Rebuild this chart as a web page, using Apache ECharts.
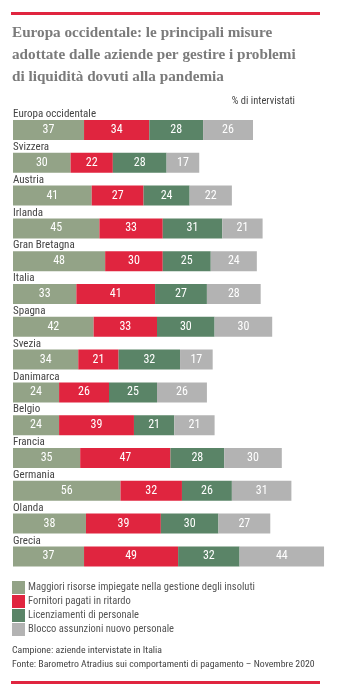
<!DOCTYPE html>
<html><head><meta charset="utf-8">
<script src="https://cdn.jsdelivr.net/npm/echarts@6/dist/echarts.min.js"></script>
<style>html,body{margin:0;padding:0;background:#fff}#c{width:348px;height:698px}</style>
</head><body><div id="c"></div>
<script>
const categories = ["Europa occidentale","Svizzera","Austria","Irlanda","Gran Bretagna","Italia","Spagna","Svezia","Danimarca","Belgio","Francia","Germania","Olanda","Grecia"];
const seriesNames = ["Maggiori risorse impiegate nella gestione degli insoluti","Fornitori pagati in ritardo","Licenziamenti di personale","Blocco assunzioni nuovo personale"];
const risorse = [37,30,41,45,48,33,42,34,24,24,35,56,38,37];
const fornitori = [34,22,27,33,30,41,33,21,26,39,47,32,39,49];
const licenziamenti = [28,28,24,31,25,27,30,32,25,21,28,26,30,32];
const blocco = [26,17,22,21,24,28,30,17,26,21,30,31,27,44];
const colors = ["#93a387","#e0253f","#5a8467","#b3b3b3"];

const cond = "'Roboto Condensed', Roboto, sans-serif";
const chart = echarts.init(document.getElementById('c'));
const mk = (name, data, i) => ({
  name, type: 'bar', stack: 's', data, barWidth: 20,
  itemStyle: {color: colors[i]},
  label: {show: true, position: 'inside', color: '#fff', fontSize: 12, fontFamily: cond},
  emphasis: {disabled: true}
});
chart.setOption({
  animation: false,
  title: {
    text: "Europa occidentale: le principali misure\nadottate dalle aziende per gestire i problemi\ndi liquidità dovuti alla pandemia",
    left: 12, top: 22, padding: 0,
    textStyle: {fontFamily: "'Liberation Serif', serif", fontWeight: 'bold', fontSize: 15.2, color: '#7b7b7b', lineHeight: 22}
  },
  legend: {
    orient: 'vertical', left: 12, top: 581, padding: 0, itemWidth: 13, itemHeight: 13, itemGap: 1,
    icon: 'rect', selectedMode: false,
    textStyle: {fontFamily: cond, fontSize: 10.5, color: '#555', padding: [0, 0, 0, -2]},
    data: seriesNames
  },
  grid: {left: 13, top: 113.6, width: 326.4, height: 459.2},
  xAxis: {type: 'value', min: 0, max: 170, show: false},
  yAxis: {
    type: 'category', data: categories, inverse: true,
    axisLine: {show: false}, axisTick: {show: false},
    axisLabel: {inside: true, margin: 0, verticalAlign: 'bottom', padding: [0,0,10,0],
      fontFamily: cond, fontSize: 11, color: '#444'}
  },
  series: [mk(seriesNames[0], risorse, 0), mk(seriesNames[1], fornitori, 1), mk(seriesNames[2], licenziamenti, 2), mk(seriesNames[3], blocco, 3)],
  graphic: [
    {type: 'rect', shape: {x: 11, y: 12, width: 309, height: 3}, style: {fill: '#e0253f'}},
    {type: 'rect', shape: {x: 11, y: 681, width: 309, height: 3}, style: {fill: '#e0253f'}},
    {type: 'text', right: 53, top: 96, style: {text: '% di intervistati', fontFamily: cond, fontSize: 10.5, fill: '#444'}},
    {type: 'text', left: 12, top: 644, style: {text: 'Campione: aziende intervistate in Italia\nFonte: Barometro Atradius sui comportamenti di pagamento – Novembre 2020', fontFamily: cond, fontSize: 9.8, lineHeight: 13.5, fill: '#444'}}
  ]
});
</script></body></html>
